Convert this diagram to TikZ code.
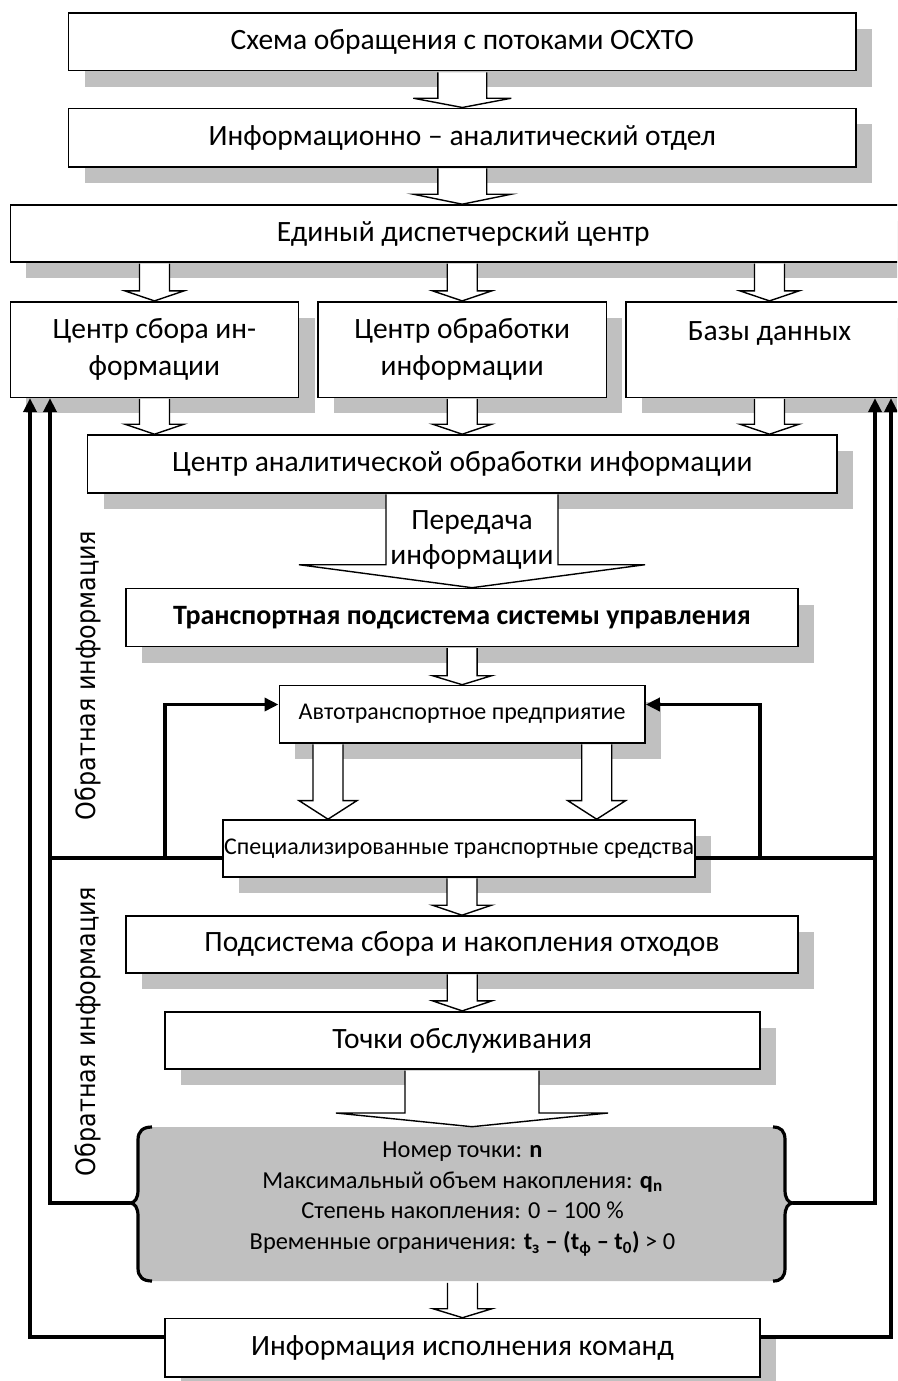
\documentclass[tikz,border=0pt]{standalone}
\usepackage{fontspec}
\setmainfont{Carlito}
\newfontfamily\vfont[FakeStretch=0.9]{DejaVu Sans}
\usetikzlibrary{arrows.meta,shadows,calc}
\definecolor{shgray}{RGB}{192,192,192}
\tikzset{
  box/.style={draw=black, line width=1.6pt, fill=white, inner sep=0pt, align=center,
    font=\fontsize{29.5}{36.5}\selectfont,
    drop shadow={shadow xshift=16pt, shadow yshift=-16pt, opacity=1, fill=shgray}},
  smalltext/.style={font=\fontsize{24}{28}\selectfont},
  boldtext/.style={font=\fontsize{28}{32}\selectfont\bfseries},
  hollow/.style={draw=black, line width=1.4pt, fill=white, line join=miter},
  fb/.style={line width=3.8pt, line join=miter},
  fbarrow/.style={fb, -{Triangle[length=14pt,width=13pt]}},
  bracepen/.style={line width=3.2pt},
  vlabel/.style={rotate=90, font=\vfont\fontsize{26.5}{30}\selectfont},
}
% box: [opts]{name}{x1}{y1}{x2}{y2}{text}
\newcommand\bx[7][]{\node[box,#1,minimum width={(#5-#3)*1pt},minimum height={(#6-#4)*1pt}] (#2) at ({(#3+#5)/2},{(#4+#6)/2}) {#7};}
% hollow block arrow: {start}{end}{half shaft}{half head}{head length}
\newcommand\barrow[5]{\draw[hollow] let \p1=#1, \p2=#2 in
  (\x2-#3,\y1-0.8pt) -- (\x2-#3,\y2+#5) -- (\x2-#4,\y2+#5) -- (\x2,\y2) -- (\x2+#4,\y2+#5) -- (\x2+#3,\y2+#5) -- (\x2+#3,\y1-0.8pt);}
\begin{document}
\begin{tikzpicture}[x=1pt,y=-1pt]
\useasboundingbox (0,0) rectangle (897,1381);
\clip (0,0) rectangle (897,1381);

% boxes
\bx{b1}{68.6}{13.3}{856}{70.7}{Схема обращения с потоками ОСХТО}
\bx{b2}{68.6}{108.3}{856}{166.7}{Информационно – аналитический отдел}
\bx{b3}{10.3}{205}{916}{262}{Единый диспетчерский центр}
\bx{b4}{10.3}{301.7}{298.6}{397.3}{Центр сбора ин-\\формации}
\bx{b5}{318}{301.7}{606.4}{397.3}{Центр обработки\\информации}
\bx{b6}{626}{301.7}{913}{397.3}{Базы данных\\\mbox{}}
\bx{b7}{87.5}{435}{837}{492.7}{Центр аналитической обработки информации}
\bx[boldtext]{b8}{126}{588.5}{798}{646.5}{Транспортная подсистема системы управления}
\bx[smalltext]{b9}{279.3}{685.5}{645}{742.7}{Автотранспортное предприятие}
\bx[smalltext]{b10}{223}{820}{695}{876.7}{Специализированные транспортные средства}
\bx{b11}{126}{916}{798}{972.7}{Подсистема сбора и накопления отходов}
\bx{b12}{164.8}{1011.7}{759.7}{1069}{Точки обслуживания}
\bx{b13}{165}{1318.5}{760}{1376.7}{Информация исполнения команд}

% gray brace block
\fill[shgray] (152,1127) .. controls (143,1127) and (138,1131) .. (138,1140) -- (138,1190)
  .. controls (138,1198) and (135,1203) .. (130,1203) .. controls (135,1203) and (138,1208) .. (138,1216)
  -- (138,1268) .. controls (138,1277) and (143,1281) .. (152,1281)
  -- (773,1281) .. controls (781,1281) and (785,1277) .. (785,1268) -- (785,1216)
  .. controls (785,1208) and (788,1203) .. (793,1203) .. controls (788,1203) and (785,1198) .. (785,1190)
  -- (785,1140) .. controls (785,1131) and (781,1127) .. (773,1127) -- cycle;
\draw[bracepen] (152,1127) .. controls (143,1127) and (138,1131) .. (138,1140) -- (138,1190)
  .. controls (138,1198) and (135,1203) .. (130,1203) .. controls (135,1203) and (138,1208) .. (138,1216)
  -- (138,1268) .. controls (138,1277) and (143,1281) .. (152,1281);
\draw[bracepen] (773,1281) .. controls (781,1281) and (785,1277) .. (785,1268) -- (785,1216)
  .. controls (785,1208) and (788,1203) .. (793,1203) .. controls (788,1203) and (785,1198) .. (785,1190)
  -- (785,1140) .. controls (785,1131) and (781,1127) .. (773,1127);
\node[font=\fontsize{24.4}{30.7}\selectfont, align=center] (info) at (462.5,1199)
  {Номер точки: \textbf{n}\\
   Максимальный объем накопления: \textbf{q\textsubscript{n}}\\
   Степень накопления: 0 – 100 \%\\
   Временные ограничения: \textbf{t\textsubscript{з} – (t\textsubscript{ф} – t\textsubscript{0})} > 0};
\coordinate (infotop) at (472,1126.7);
\coordinate (infobot) at (462.5,1282);
\coordinate (ltip) at (130,1203);
\coordinate (rtip) at (793,1203);

% block arrows
\coordinate (ax) at (472,0);
\coordinate (a1) at (328,0);
\coordinate (a2) at (596.7,0);
\barrow{(b1.south)}{(b2.north)}{24.4pt}{49pt}{9.3pt}
\barrow{(b2.south)}{(b3.north -| b2.north)}{24.4pt}{49pt}{10pt}
\barrow{(b3.south -| b4.north)}{(b4.north)}{15pt}{29.5pt}{10pt}
\barrow{(b3.south -| b5.north)}{(b5.north)}{15pt}{29.5pt}{10pt}
\barrow{(b3.south -| b6.north)}{(b6.north)}{15pt}{29.5pt}{10pt}
\barrow{(b4.south)}{(b4.south |- b7.north)}{15pt}{29.5pt}{10pt}
\barrow{(b5.south)}{(b5.south |- b7.north)}{15pt}{29.5pt}{10pt}
\barrow{(b6.south)}{(b6.south |- b7.north)}{15pt}{29.5pt}{10pt}
\barrow{(b7.south)}{(ax |- b8.north)}{86pt}{173pt}{23pt}
\node[font=\fontsize{29.5}{35}\selectfont, align=center] (pered) at (472,539.5) {Передача\\информации};
\barrow{(b8.south)}{(b9.north)}{15pt}{29.5pt}{9pt}
\barrow{(a1 |- b9.south)}{(a1 |- b10.north)}{15pt}{29pt}{18.6pt}
\barrow{(a2 |- b9.south)}{(a2 |- b10.north)}{15pt}{29pt}{18.6pt}
\barrow{(b10.south -| b11.north)}{(b11.north)}{15pt}{29.5pt}{10pt}
\barrow{(b11.south)}{(b12.north)}{15pt}{29.5pt}{10pt}
\barrow{(b12.south)}{(infotop)}{67pt}{136pt}{13.7pt}
\barrow{(infobot)}{(b13.north)}{15pt}{29.5pt}{9pt}

% feedback lines
\coordinate (oL) at (30,1337);
\coordinate (oR) at (891,1337);
\coordinate (iL) at (50,1203);
\coordinate (iR) at (875,1203);
\coordinate (mid) at (0,858.3);
\coordinate (fl) at (165,858.3);
\coordinate (fl2) at (165,704.5);
\coordinate (fr) at (760,858.3);
\coordinate (fr2) at (760,704.5);
\draw[fbarrow] (oL -| b13.west) -- (oL) -- (oL |- b4.south);
\draw[fbarrow] (oR -| b13.east) -- (oR) -- (oR |- b6.south);
\draw[fbarrow] (ltip) -- (iL) -- (iL |- b4.south);
\draw[fbarrow] (rtip) -- (iR) -- (iR |- b6.south);
\draw[fb] (iL |- mid) -- (mid -| b10.west);
\draw[fb] (mid -| b10.east) -- (iR |- mid);
\draw[fbarrow] (fl) -- (fl2) -- (fl2 -| b9.west);
\draw[fbarrow] (fr) -- (fr2) -- (fr2 -| b9.east);

% side labels
\node[vlabel] (lab1) at (87.5,675.5) {Обратная информация};
\node[vlabel] (lab2) at (87.5,1031.5) {Обратная информация};
\end{tikzpicture}
\end{document}
